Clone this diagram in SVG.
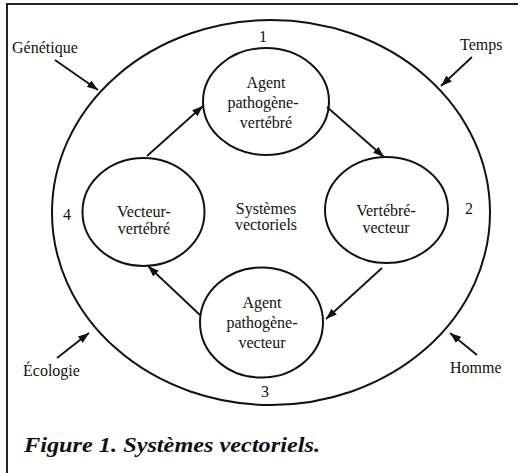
<svg xmlns="http://www.w3.org/2000/svg" width="520" height="473" viewBox="0 0 520 473">
<style>
.t{font-family:"Liberation Serif","Times New Roman",serif;font-size:16px;fill:#111}
.m{text-anchor:middle}
.o{fill:none;stroke:#111;stroke-width:2}
.c{stroke:#111;stroke-width:1.8;fill:none;marker-end:url(#ah)}
.cap{font-family:"Liberation Serif","Times New Roman",serif;font-size:21px;font-style:italic;font-weight:bold;fill:#111}
</style>
<defs>
<marker id="ah" markerUnits="userSpaceOnUse" markerWidth="12" markerHeight="8" refX="11" refY="4" orient="auto">
<path d="M0,0 L11,4 L0,8 z" fill="#111"/>
</marker>
</defs>
<rect width="520" height="473" fill="#fff"/>
<g id="frame">
<line x1="6" y1="4" x2="518" y2="4" stroke="#222" stroke-width="2"/>
<line x1="7" y1="4" x2="7" y2="473" stroke="#222" stroke-width="2"/>
</g>
<g id="outer">
<ellipse class="o" cx="271" cy="212.5" rx="219" ry="192.5"/>
<text class="t m" x="263" y="42">1</text>
<text class="t m" x="469" y="214">2</text>
<text class="t m" x="265" y="397">3</text>
<text class="t m" x="67" y="220">4</text>
<text class="t m" x="266" y="214">Systèmes</text>
<text class="t m" x="266" y="230">vectoriels</text>
</g>
<g id="node-agent-vertebre">
<ellipse class="o" cx="266" cy="101.5" rx="63" ry="53.5"/>
<text class="t m" x="266" y="88">Agent</text>
<text class="t m" x="263" y="108">pathogène-</text>
<text class="t m" x="266" y="128">vertébré</text>
</g>
<g id="node-vertebre-vecteur">
<ellipse class="o" cx="386.5" cy="210" rx="61.5" ry="53"/>
<text class="t m" x="386" y="216">Vertébré-</text>
<text class="t m" x="386" y="233">vecteur</text>
</g>
<g id="node-agent-vecteur">
<ellipse class="o" cx="261.5" cy="322.5" rx="61.5" ry="55"/>
<text class="t m" x="262" y="308">Agent</text>
<text class="t m" x="262" y="328">pathogène-</text>
<text class="t m" x="262" y="348">vecteur</text>
</g>
<g id="node-vecteur-vertebre">
<ellipse class="o" cx="143.5" cy="212" rx="61" ry="54"/>
<text class="t m" x="144" y="217">Vecteur-</text>
<text class="t m" x="144" y="234">vertébré</text>
</g>
<g id="labels">
<text class="t" x="12" y="53">Génétique</text>
<text class="t" x="460" y="50">Temps</text>
<text class="t" x="23" y="376">Écologie</text>
<text class="t" x="450" y="373">Homme</text>
</g>
<g id="connectors">
<line class="c" x1="147" y1="156" x2="203" y2="106"/>
<line class="c" x1="327" y1="107" x2="384" y2="157"/>
<line class="c" x1="382" y1="268" x2="326" y2="319"/>
<line class="c" x1="200" y1="315" x2="148" y2="266"/>
<line class="c" x1="55" y1="60" x2="98" y2="90"/>
<line class="c" x1="472" y1="57" x2="441" y2="86"/>
<line class="c" x1="57" y1="358" x2="89" y2="333"/>
<line class="c" x1="477" y1="355" x2="450" y2="333"/>
</g>
<text class="cap" x="24" y="452" textLength="296" lengthAdjust="spacingAndGlyphs">Figure 1. Systèmes vectoriels.</text>
</svg>
